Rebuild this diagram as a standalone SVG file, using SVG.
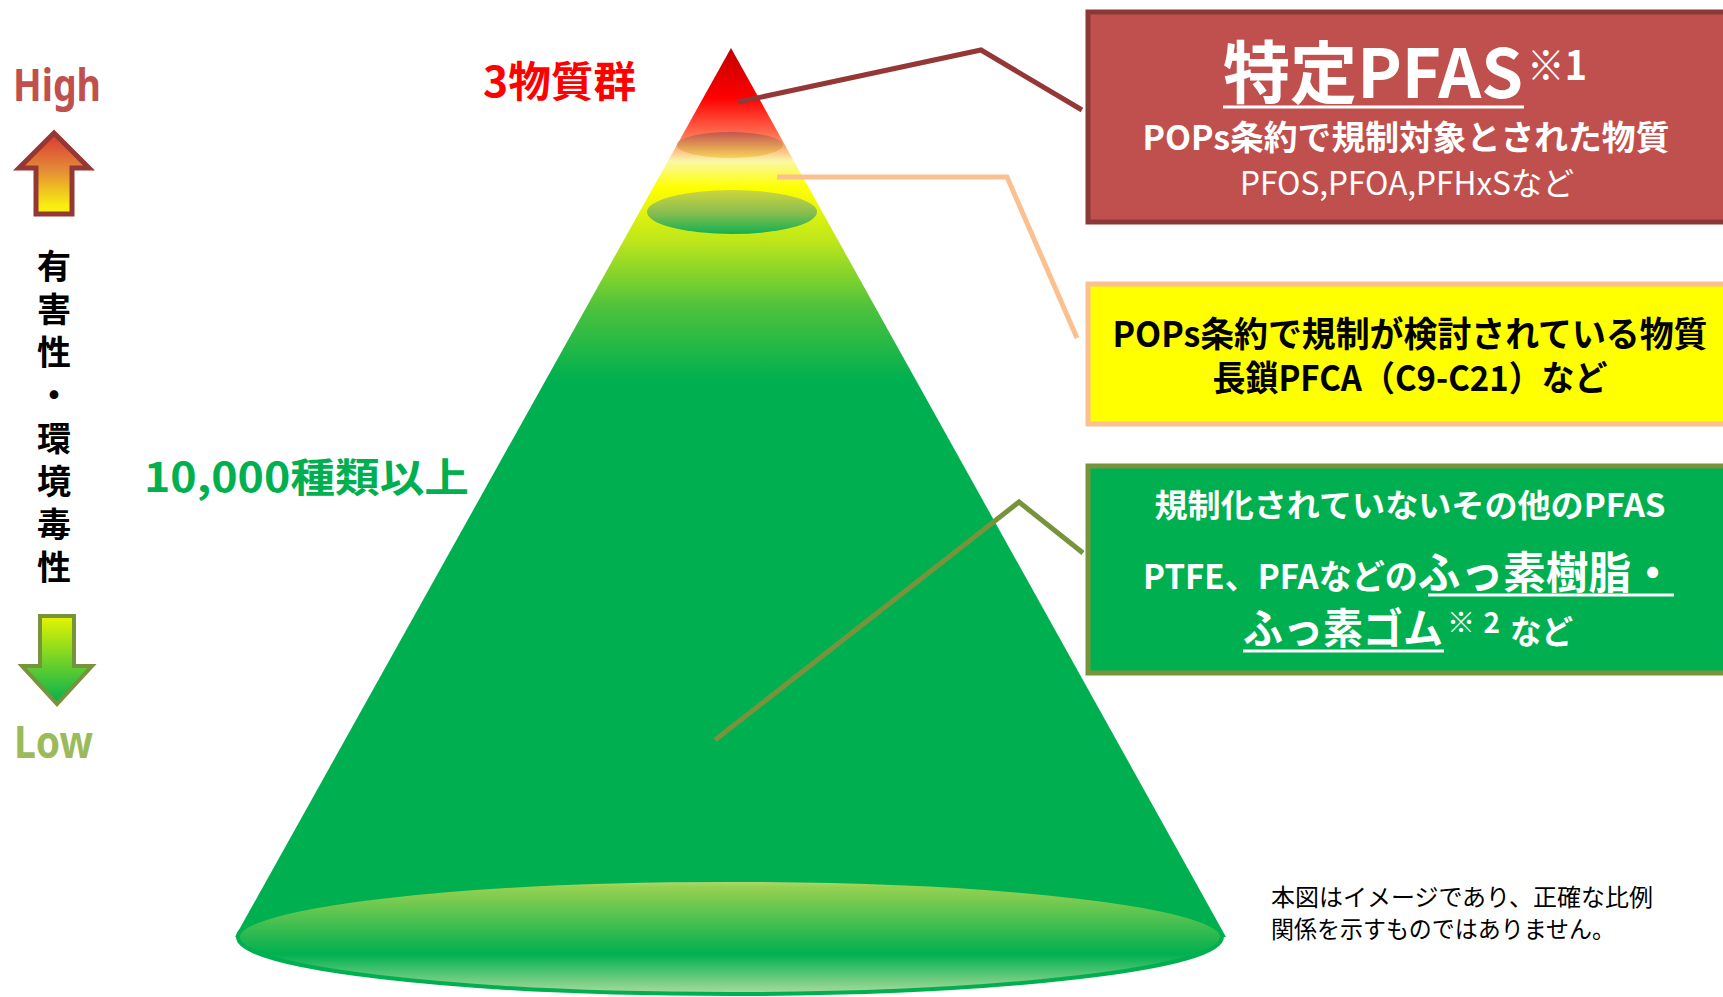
<svg xmlns="http://www.w3.org/2000/svg" width="1723" height="997" viewBox="0 0 1723 997">
<style>
.cj{font-family:"Noto Sans CJK JP","Noto Sans",sans-serif;}
.b{font-weight:bold;}
.w{fill:#FFFFFF;}
.k{fill:#000000;}
.vt{font-family:"Noto Sans CJK JP",sans-serif;font-weight:bold;font-size:34px;fill:#000;text-anchor:middle;}
.mid{text-anchor:middle;}
.conn{fill:none;stroke-width:5;stroke-linejoin:miter;}
.ul{stroke:#FFFFFF;stroke-width:3;}
</style>
<defs>
<linearGradient id="triG" gradientUnits="userSpaceOnUse" x1="0" y1="48" x2="0" y2="380">
<stop offset="0" stop-color="#C00000"/>
<stop offset="0.15" stop-color="#FF0000"/>
<stop offset="0.27" stop-color="#FF7A5A"/>
<stop offset="0.34" stop-color="#FAF7A8"/>
<stop offset="0.42" stop-color="#FFFF00"/>
<stop offset="0.58" stop-color="#BEE61A"/>
<stop offset="0.78" stop-color="#4EC23C"/>
<stop offset="1" stop-color="#00B050"/>
</linearGradient>
<linearGradient id="e1G" x1="0" y1="0" x2="0" y2="1">
<stop offset="0" stop-color="#C4554F"/>
<stop offset="1" stop-color="#F7D45A"/>
</linearGradient>
<linearGradient id="e2G" x1="0" y1="0" x2="0" y2="1">
<stop offset="0" stop-color="#CDD63C"/>
<stop offset="0.5" stop-color="#8DBE50"/>
<stop offset="1" stop-color="#12B050"/>
</linearGradient>
<linearGradient id="baseG" x1="0" y1="0" x2="0" y2="1">
<stop offset="0" stop-color="#B4DA84"/>
<stop offset="0.06" stop-color="#96D150"/>
<stop offset="0.65" stop-color="#00B050"/>
<stop offset="1" stop-color="#AEDB9C"/>
</linearGradient>
<linearGradient id="upG" x1="0" y1="0" x2="0" y2="1">
<stop offset="0" stop-color="#DC3434"/>
<stop offset="0.45" stop-color="#E38A36"/>
<stop offset="0.9" stop-color="#F8EE10"/>
</linearGradient>
<linearGradient id="dnG" x1="0" y1="0" x2="0" y2="1">
<stop offset="0" stop-color="#E6F500"/>
<stop offset="1" stop-color="#00B050"/>
</linearGradient>
</defs>

<g id="scale-left">
<text x="13" y="101" class="b" font-family="'Noto Sans',sans-serif" font-size="44" fill="#C0504D" textLength="88" lengthAdjust="spacingAndGlyphs">High</text>
<path d="M54,133 L89,168 L72,168 L72,214 L36,214 L36,168 L19,168 Z" fill="url(#upG)" stroke="#953735" stroke-width="5"/>
<text class="vt" x="54" y="279">有</text>
<text class="vt" x="54" y="322">害</text>
<text class="vt" x="54" y="365">性</text>
<text class="vt" x="54" y="408">・</text>
<text class="vt" x="54" y="451">環</text>
<text class="vt" x="54" y="494">境</text>
<text class="vt" x="54" y="537">毒</text>
<text class="vt" x="54" y="580">性</text>
<path d="M40,616 L74,616 L74,666 L92,666 L57,704 L22,666 L40,666 Z" fill="url(#dnG)" stroke="#77933C" stroke-width="4"/>
<text x="14" y="758" class="b" font-family="'Noto Sans',sans-serif" font-size="44" fill="#9BBB59" textLength="79" lengthAdjust="spacingAndGlyphs">Low</text>
</g>

<g id="pyramid">
<polygon points="731,48 1226,937 235,937" fill="url(#triG)"/>
<ellipse cx="730" cy="145" rx="53" ry="13" fill="url(#e1G)"/>
<ellipse cx="732" cy="212" rx="85" ry="22" fill="url(#e2G)"/>
<ellipse cx="730" cy="937" rx="492" ry="57" fill="url(#baseG)" stroke="#00B050" stroke-width="4"/>
</g>

<g id="label-3">
<text x="483" y="97" class="cj b" font-size="42" fill="#FF0000" textLength="153" lengthAdjust="spacingAndGlyphs">3物質群</text>
</g>
<g id="label-10000">
<text x="144" y="492" class="cj b" font-size="40" fill="#00B050" textLength="325" lengthAdjust="spacingAndGlyphs">10,000種類以上</text>
</g>

<g id="connectors">
<polyline class="conn" points="738,102 981,50 1082,110" stroke="#953735"/>
<polyline class="conn" points="777,177 1007,177 1077,338" stroke="#FAC090"/>
<polyline class="conn" points="715,740 1019,502 1083,553" stroke="#77933C"/>
</g>

<g id="box-red">
<rect x="1088" y="12" width="650" height="210" fill="#C0504D" stroke="#8C3836" stroke-width="5"/>
<text x="1223" y="98" class="cj b w" font-size="68" textLength="300" lengthAdjust="spacingAndGlyphs">特定PFAS</text>
<text x="1527" y="80" class="cj b w" font-size="40" textLength="60" lengthAdjust="spacingAndGlyphs">※1</text>
<line class="ul" x1="1223" y1="107" x2="1524" y2="107"/>
<text x="1406" y="150" class="cj b w mid" font-size="34" textLength="527" lengthAdjust="spacingAndGlyphs">POPs条約で規制対象とされた物質</text>
<text x="1407" y="195" class="cj w mid" font-size="32" textLength="334" lengthAdjust="spacingAndGlyphs">PFOS,PFOA,PFHxSなど</text>
</g>

<g id="box-yellow">
<rect x="1088" y="284" width="650" height="140" fill="#FFFF00" stroke="#FAC090" stroke-width="5"/>
<text x="1410" y="347" class="cj b k mid" font-size="35" textLength="595" lengthAdjust="spacingAndGlyphs">POPs条約で規制が検討されている物質</text>
<text x="1410" y="391" class="cj b k mid" font-size="35" textLength="395" lengthAdjust="spacingAndGlyphs">長鎖PFCA（C9-C21）など</text>
</g>

<g id="box-green">
<rect x="1088" y="466" width="650" height="207" fill="#00B050" stroke="#77933C" stroke-width="5"/>
<text x="1410" y="517" class="cj b w mid" font-size="32" textLength="511" lengthAdjust="spacingAndGlyphs">規制化されていないその他のPFAS</text>
<text x="1143" y="589" class="cj b w" font-size="34" textLength="531" lengthAdjust="spacingAndGlyphs">PTFE、PFAなどの<tspan font-size="44">ふっ素樹脂・</tspan></text>
<line class="ul" x1="1428" y1="595" x2="1674" y2="595"/>
<text x="1243" y="644" class="cj b w" font-size="42" textLength="200" lengthAdjust="spacingAndGlyphs">ふっ素ゴム</text>
<text x="1447" y="633" class="cj b w" font-size="28" textLength="53">※2</text>
<text x="1510" y="644" class="cj b w" font-size="33" textLength="63" lengthAdjust="spacingAndGlyphs">など</text>
<line class="ul" x1="1243" y1="651" x2="1444" y2="651"/>
</g>

<g id="footnote">
<text x="1271" y="906" class="cj k" font-size="24" textLength="382" lengthAdjust="spacingAndGlyphs">本図はイメージであり、正確な比例</text>
<text x="1271" y="938" class="cj k" font-size="24" textLength="344" lengthAdjust="spacingAndGlyphs">関係を示すものではありません。</text>
</g>
</svg>
